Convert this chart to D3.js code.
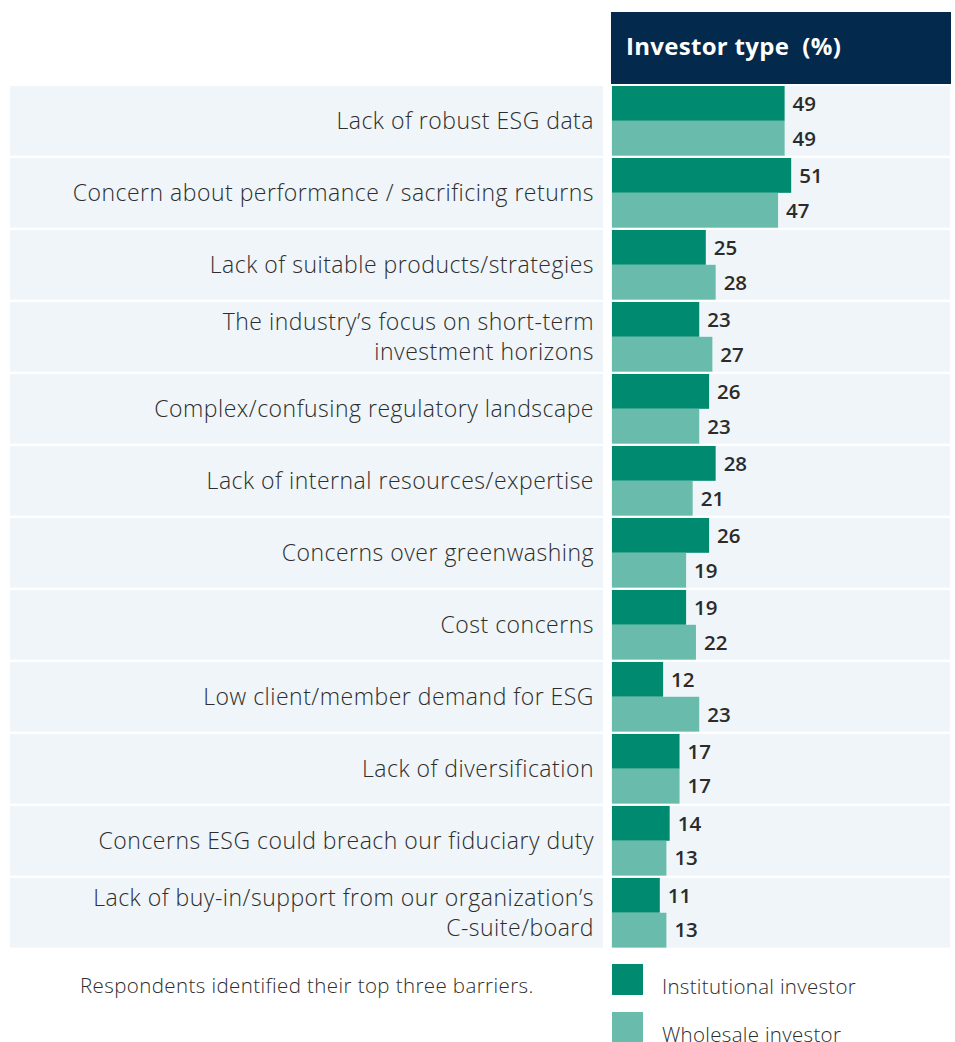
<!DOCTYPE html>
<html>
<head>
<meta charset="UTF-8">
<title>Barriers to ESG</title>
<script src="https://d3js.org/d3.v7.min.js"></script>
<style>
  body { margin: 0; background: #fff; }
  svg text { font-family: "Open Sans", Lato, sans-serif; }
</style>
</head>
<body>
<svg id="chart" width="955" height="1042"></svg>
<script>
// ---- data ----
var barriers = [
  ["Lack of robust ESG data"],
  ["Concern about performance / sacrificing returns"],
  ["Lack of suitable products/strategies"],
  ["The industry\u2019s focus on short-term", "investment horizons"],
  ["Complex/confusing regulatory landscape"],
  ["Lack of internal resources/expertise"],
  ["Concerns over greenwashing"],
  ["Cost concerns"],
  ["Low client/member demand for ESG"],
  ["Lack of diversification"],
  ["Concerns ESG could breach our fiduciary duty"],
  ["Lack of buy-in/support from our organization\u2019s", "C-suite/board"]
];
var institutional = [49, 51, 25, 23, 26, 28, 26, 19, 12, 17, 14, 11];
var wholesale     = [49, 47, 28, 27, 23, 21, 19, 22, 23, 17, 13, 13];
var seriesNames = ["Institutional investor", "Wholesale investor"];
var headerText = "Investor type  (%)";
var noteText = "Respondents identified their top three barriers.";

var colors = ["#008b71", "#69bbab"];

var svg = d3.select("#chart");

// ==== layout ====
var labelLeft = 10, labelRight = 603, barLeft = 611, barRight = 950;
var rowsTop = 86, rowStep = 71.8;

var y = d3.scaleBand()
  .domain(d3.range(barriers.length))
  .range([rowsTop, rowsTop + rowStep * barriers.length])
  .paddingInner(2.3 / rowStep);

var x = d3.scaleLinear().domain([0, 50]).range([623.7, 787.9]);

// ==== header ====
svg.append("rect")
  .attr("x", barLeft).attr("y", 12)
  .attr("width", barRight - barLeft + 1).attr("height", 72)
  .attr("fill", "#03294c");
svg.append("text")
  .attr("x", 626).attr("y", 55)
  .attr("fill", "#fff")
  .attr("font-size", 24).attr("font-weight", 700)
  .attr("letter-spacing", 0.3)
  .style("white-space", "pre")
  .text(headerText);

// ==== rows ====
var rows = svg.selectAll("g.row")
  .data(barriers)
  .enter().append("g")
  .attr("class", "row");

rows.append("rect")
  .attr("x", labelLeft).attr("y", function(d, i) { return y(i); })
  .attr("width", labelRight - labelLeft).attr("height", y.bandwidth())
  .attr("fill", "#eff5f8");
rows.append("rect")
  .attr("x", barLeft).attr("y", function(d, i) { return y(i); })
  .attr("width", barRight - barLeft).attr("height", y.bandwidth())
  .attr("fill", "#eff5f8");

rows.append("text")
  .attr("text-anchor", "end")
  .attr("font-size", 23)
  .attr("font-weight", 300)
  .attr("letter-spacing", 0.5)
  .attr("fill", "#2d2d2d")
  .each(function(d, i) {
    var t = d3.select(this);
    var mid = y(i) + y.bandwidth() / 2;
    d.forEach(function(line, k) {
      t.append("tspan")
        .attr("x", 594)
        .attr("y", mid + 8 + (k - (d.length - 1) / 2) * 30)
        .text(line);
    });
  });

// ==== bars ====
[institutional, wholesale].forEach(function(vals, s) {
  var half = y.bandwidth() / 2;
  svg.selectAll("rect.bar" + s)
    .data(vals)
    .enter().append("rect")
    .attr("class", "bar" + s)
    .attr("x", barLeft + 1)
    .attr("y", function(d, i) { return y(i) + s * half; })
    .attr("width", function(d) { return x(d) - barLeft - 1; })
    .attr("height", half)
    .attr("fill", colors[s]);

  svg.selectAll("text.val" + s)
    .data(vals)
    .enter().append("text")
    .attr("class", "val" + s)
    .attr("x", function(d) { return x(d) + 8; })
    .attr("y", function(d, i) { return y(i) + s * half + half / 2 + 7.3; })
    .attr("font-size", 20.5).attr("font-weight", 600)
    .attr("fill", "#2b2b2b")
    .text(function(d) { return d; });
});

// ==== footer ====
svg.append("text")
  .attr("x", 80).attr("y", 993)
  .attr("font-size", 20.5).attr("font-weight", 300)
  .attr("letter-spacing", 0.4)
  .attr("fill", "#2d2d2d")
  .text(noteText);

var legend = svg.selectAll("g.legend")
  .data(seriesNames)
  .enter().append("g")
  .attr("class", "legend")
  .attr("transform", function(d, i) { return "translate(612," + (964 + i * 48) + ")"; });
legend.append("rect")
  .attr("width", 31).attr("height", 31)
  .attr("fill", function(d, i) { return colors[i]; });
legend.append("text")
  .attr("x", 50).attr("y", 30)
  .attr("font-size", 20.5).attr("font-weight", 300)
  .attr("letter-spacing", 0.3)
  .attr("fill", "#2d2d2d")
  .text(function(d) { return d; });
</script>
</body>
</html>
